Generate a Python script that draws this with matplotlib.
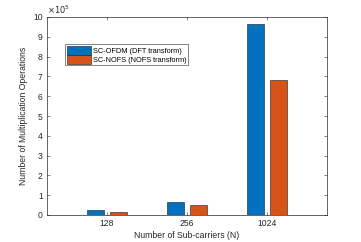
import matplotlib.pyplot as plt
import numpy as np

plt.rcParams.update({'font.size': 6.2, 'font.family': ['Liberation Sans', 'DejaVu Sans']})

categories = ['128', '256', '1024']
dft_ops = [0.24e5, 0.64e5, 9.65e5]
nofs_ops = [0.17e5, 0.50e5, 6.82e5]

x = np.arange(1, len(categories) + 1)

fig = plt.figure(figsize=(3.61, 2.42), dpi=100)
ax = fig.add_axes([47/361, 27/242, 280/361, 198/242])
ax.bar(x - 0.145, dft_ops, width=0.21, color='#0072BD', edgecolor='#1a1a1a', linewidth=0.4,
       label='SC-OFDM (DFT transform)')
ax.bar(x + 0.145, nofs_ops, width=0.21, color='#D95319', edgecolor='#1a1a1a', linewidth=0.4,
       label='SC-NOFS (NOFS transform)')

ax.set_xlim(0.25, 3.75)
ax.set_ylim(0, 10e5)
ax.set_xticks(x)
ax.set_xticklabels(categories)
ax.set_yticks(np.arange(0, 11) * 1e5)
ax.set_yticklabels([str(i) for i in range(11)])
ax.text(0, 1.005, r'$\times10^5$', transform=ax.transAxes, fontsize=6, va='bottom', ha='left',
        color='#262626')
ax.tick_params(direction='in', length=2, width=0.4, top=True, right=True, colors='#262626',
               pad=3)
for s in ax.spines.values():
    s.set_linewidth(0.5)
    s.set_color('#262626')

ax.set_xlabel('Number of Sub-carriers (N)', color='#262626', labelpad=2)
ax.set_ylabel('Number of Multiplication Operations', color='#262626', labelpad=4)

leg = ax.legend(loc='upper left', bbox_to_anchor=(0.064, 0.863), fancybox=False,
                edgecolor='#262626', framealpha=1, fontsize=5.3, handlelength=3.3,
                handleheight=1.45, borderpad=0.25, labelspacing=0.0, handletextpad=0.25,
                borderaxespad=0)
leg.get_frame().set_linewidth(0.4)

plt.savefig('out.png', dpi=100)
plt.close()
